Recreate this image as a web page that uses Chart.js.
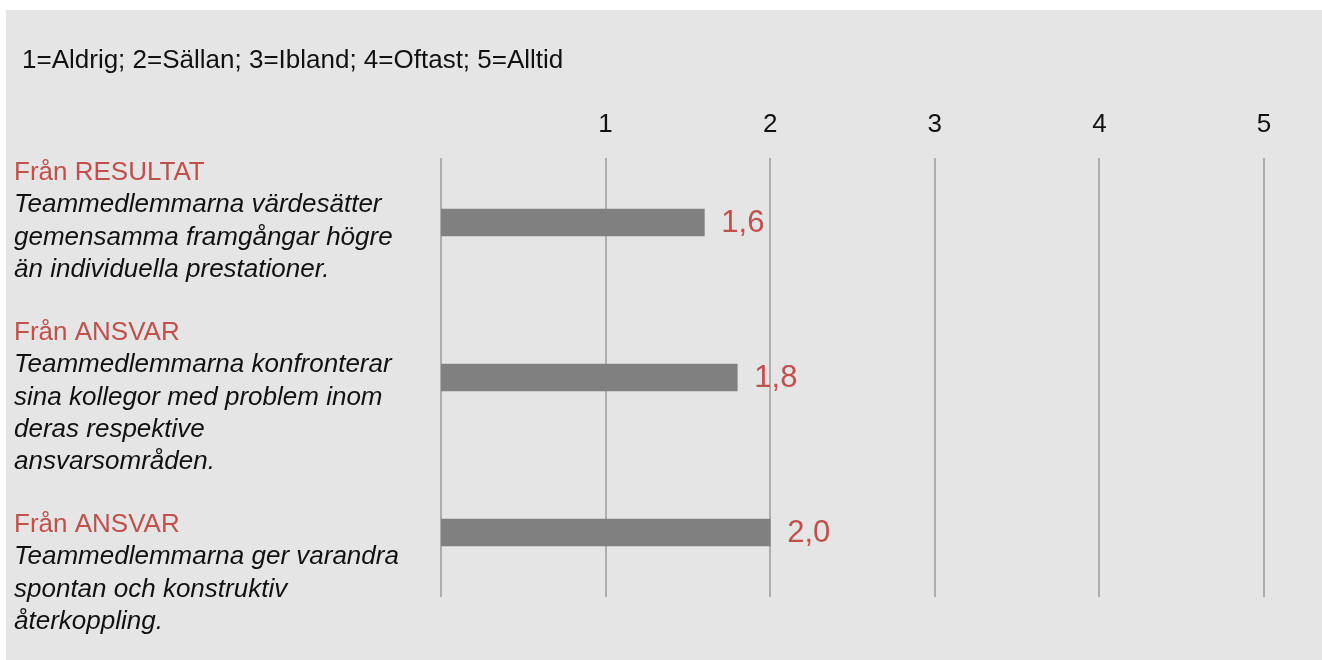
<!DOCTYPE html>
<html>
<head>
<meta charset="utf-8">
<script src="https://cdn.jsdelivr.net/npm/chart.js@4/dist/chart.umd.min.js"></script>
<style>
    html, body { margin: 0; padding: 0; background: #ffffff; }
    #wrap { width: 1322px; height: 660px; position: relative; }
</style>
</head>
<body>
<div id="wrap"><canvas id="scoreChart" width="1322" height="660"></canvas></div>
<script>
// ------------------------------------------------------------
// Teamenkät - medelvärden per påstående
// ------------------------------------------------------------

const scaleNote = '1=Aldrig; 2=Sällan; 3=Ibland; 4=Oftast; 5=Alltid';

const sources = ['Från RESULTAT', 'Från ANSVAR', 'Från ANSVAR'];
const statements = [
    ['Teammedlemmarna värdesätter', 'gemensamma framgångar högre', 'än individuella prestationer.'],
    ['Teammedlemmarna konfronterar', 'sina kollegor med problem inom', 'deras respektive', 'ansvarsområden.'],
    ['Teammedlemmarna ger varandra', 'spontan och konstruktiv', 'återkoppling.']
];
const scores = [1.6, 1.8, 2.0];
const tickValues = [0, 1, 2, 3, 4, 5];

const FONT = '"Liberation Sans", Arial, Helvetica, sans-serif';
const RED = '#c0504d';
const TEXT = '#111111';
const PANEL = '#e5e5e5';
const GRID = '#adadad';

// baseline of each source heading in the left column
const blockTops = [180, 340, 532];
const lineStep = 32.3;

const panelPlugin = {
    id: 'panel',
    beforeDraw(chart) {
        const ctx = chart.ctx;
        ctx.save();
        ctx.fillStyle = PANEL;
        ctx.fillRect(6, 10, chart.width - 6, chart.height - 10);
        ctx.fillStyle = TEXT;
        ctx.font = '26px ' + FONT;
        ctx.textBaseline = 'alphabetic';
        ctx.fillText(scaleNote, 22, 68);
        ctx.restore();
    }
};

const gridPlugin = {
    id: 'shortGrid',
    beforeDatasetsDraw(chart) {
        const { ctx, chartArea, scales } = chart;
        ctx.save();
        ctx.strokeStyle = GRID;
        ctx.lineWidth = 2;
        tickValues.forEach(v => {
            const x = Math.round(scales.x.getPixelForValue(v));
            ctx.beginPath();
            ctx.moveTo(x, chartArea.top + 13);
            ctx.lineTo(x, chartArea.bottom - 13);
            ctx.stroke();
        });
        ctx.restore();
    }
};

const labelPlugin = {
    id: 'labels',
    afterDraw(chart) {
        const ctx = chart.ctx;
        ctx.save();
        ctx.textAlign = 'left';

        // value next to each bar
        const meta = chart.getDatasetMeta(0);
        ctx.fillStyle = RED;
        ctx.font = '31px ' + FONT;
        ctx.textBaseline = 'middle';
        meta.data.forEach((bar, i) => {
            const txt = scores[i].toFixed(1).replace('.', ',');
            ctx.fillText(txt, bar.x + 17, bar.y + 1);
        });

        // left column: source + statement
        ctx.textBaseline = 'alphabetic';
        sources.forEach((src, i) => {
            let y = blockTops[i];
            ctx.fillStyle = RED;
            ctx.font = '26px ' + FONT;
            ctx.fillText(src, 14, y);
            ctx.fillStyle = TEXT;
            ctx.font = 'italic 26px ' + FONT;
            statements[i].forEach(line => {
                y += lineStep;
                ctx.fillText(line, 14, y);
            });
        });
        ctx.restore();
    }
};

new Chart(document.getElementById('scoreChart'), {
    type: 'bar',
    data: {
        labels: sources.map((s, i) => s + ' ' + (i + 1)),
        datasets: [{
            data: scores,
            backgroundColor: '#808080',
            borderWidth: 0,
            barThickness: 27
        }]
    },
    options: {
        indexAxis: 'y',
        responsive: false,
        animation: false,
        layout: { padding: { left: 441, right: 58, top: 100, bottom: 50 } },
        plugins: {
            legend: { display: false },
            tooltip: { enabled: false }
        },
        scales: {
            x: {
                position: 'top',
                min: 0,
                max: 5,
                afterFit(scale) { scale.height = 45; },
                afterBuildTicks(scale) { scale.ticks = tickValues.map(v => ({ value: v })); },
                border: { display: false },
                grid: { display: false, drawTicks: false, tickLength: 0 },
                ticks: {
                    padding: 5,
                    color: TEXT,
                    font: { family: FONT, size: 26 },
                    maxRotation: 0,
                    callback: v => (v === 0 ? '' : String(v))
                }
            },
            y: {
                display: false
            }
        }
    },
    plugins: [panelPlugin, gridPlugin, labelPlugin]
});
</script>
</body>
</html>
